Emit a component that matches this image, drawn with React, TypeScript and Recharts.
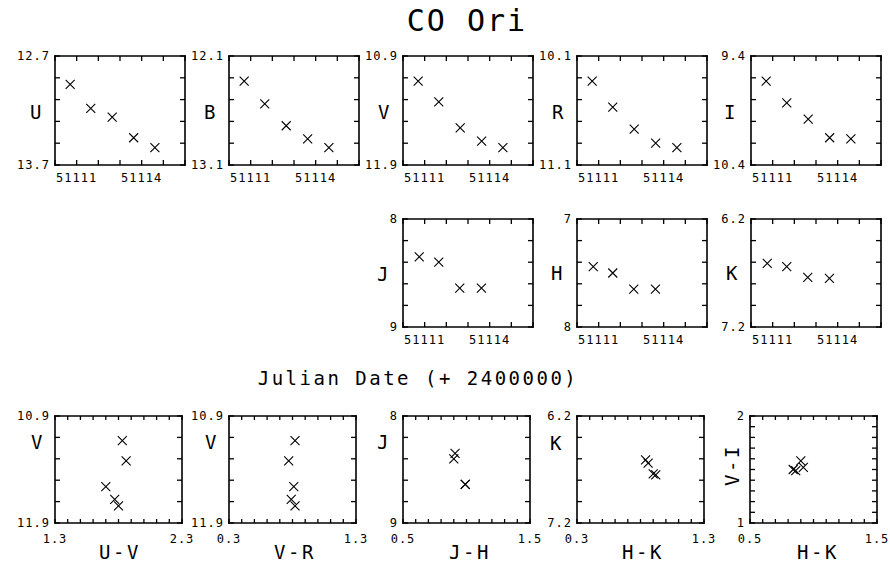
import { ScatterChart, Scatter, XAxis, YAxis } from "recharts";

const FONT = "'DejaVu Sans Mono', monospace";

// dates are JD - 2400000
const optDates = [51110.7, 51111.65, 51112.64, 51113.63, 51114.61];
const irDates = [51110.75, 51111.65, 51112.62, 51113.62];

const magU = [12.96, 13.18, 13.26, 13.45, 13.54];
const magB = [12.33, 12.54, 12.74, 12.86, 12.94];
const magV = [11.13, 11.32, 11.56, 11.68, 11.74];
const magR = [10.33, 10.57, 10.77, 10.9, 10.94];
const magI = [9.63, 9.83, 9.98, 10.15, 10.16];
const magJ = [8.35, 8.4, 8.64, 8.64];
const magH = [7.44, 7.5, 7.65, 7.65];
const magK = [6.61, 6.64, 6.74, 6.75];

const colUV = [1.83, 1.86, 1.7, 1.77, 1.8];
const colVR = [0.82, 0.77, 0.81, 0.79, 0.82];
const colJH = [0.91, 0.9, 0.99, 0.99];
const colHK = [0.84, 0.86, 0.9, 0.92];
const colVI = [1.5, 1.49, 1.58, 1.52];

const dateTicks = [51110, 51111, 51112, 51113, 51114, 51115, 51116];
const dateText = ["", "51111", "", "", "51114", "", ""];

const ticksU = [12.7, 12.9, 13.1, 13.3, 13.5, 13.7];
const ticksB = [12.1, 12.3, 12.5, 12.7, 12.9, 13.1];
const ticksV = [10.9, 11.1, 11.3, 11.5, 11.7, 11.9];
const ticksR = [10.1, 10.3, 10.5, 10.7, 10.9, 11.1];
const ticksI = [9.4, 9.6, 9.8, 10.0, 10.2, 10.4];
const ticksJ = [8, 8.2, 8.4, 8.6, 8.8, 9];
const ticksH = [7, 7.2, 7.4, 7.6, 7.8, 8];
const ticksK = [6.2, 6.4, 6.6, 6.8, 7.0, 7.2];
const ticksVI = [1, 1.1, 1.2, 1.3, 1.4, 1.5, 1.6, 1.7, 1.8, 1.9, 2];

const ticksUV = [1.3, 1.4, 1.5, 1.6, 1.7, 1.8, 1.9, 2.0, 2.1, 2.2, 2.3];
const ticksVR = [0.3, 0.4, 0.5, 0.6, 0.7, 0.8, 0.9, 1.0, 1.1, 1.2, 1.3];
const ticksJH = [0.5, 0.6, 0.7, 0.8, 0.9, 1.0, 1.1, 1.2, 1.3, 1.4, 1.5];
const ticksHK = [0.3, 0.4, 0.5, 0.6, 0.7, 0.8, 0.9, 1.0, 1.1, 1.2, 1.3];
const ticksHK2 = [0.5, 0.6, 0.7, 0.8, 0.9, 1.0, 1.1, 1.2, 1.3, 1.4, 1.5];

const ends = (t: number[], a: string, b: string) =>
  t.map((_, i) => (i === 0 ? a : i === t.length - 1 ? b : ""));

const ML = 50;
const MT = 12;
const MR = 16;
const MB = 28;

const Cross = (props: any) => {
  const { cx, cy } = props;
  const s = 4.5;
  return (
    <path
      d={`M${cx - s},${cy - s}L${cx + s},${cy + s}M${cx - s},${cy + s}L${cx + s},${cy - s}`}
      stroke="#000"
      strokeWidth={1.1}
      fill="none"
    />
  );
};

const Blank = () => <g />;
const noText = () => "";

const axisLine = { stroke: "#000", strokeWidth: 1.6, strokeLinecap: "square" as const };
const tickLine = { stroke: "#000", strokeWidth: 1.3 };
const tickStyle = { fontSize: 12, fontFamily: FONT, fill: "#000", letterSpacing: 1 };

interface PanelProps {
  left: number;
  top: number;
  w: number;
  h: number;
  xs: number[];
  ys: number[];
  xTicks: number[];
  xText: string[];
  yTicks: number[];
  yText: string[];
  flipY?: boolean;
  xGap?: number;
  tickLen?: number;
}

function Panel({ left, top, w, h, xs, ys, xTicks, xText, yTicks, yText, flipY = true, xGap = 13, tickLen = 5 }: PanelProps) {
  const data = xs.map((x, i) => ({ x, y: ys[i] }));
  const xDom = [xTicks[0], xTicks[xTicks.length - 1]];
  const yDom = [yTicks[0], yTicks[yTicks.length - 1]];
  // ticks point inward (negative tickSize); top / right axes get 1px of room so that they are drawn
  return (
    <div style={{ position: "absolute", left: left - ML, top: top - MT }}>
      <ScatterChart
        width={w + ML + MR}
        height={h + MT + MB}
        margin={{ top: MT - 1, right: MR - 1, bottom: 0, left: 0 }}
      >
        <XAxis
          xAxisId="b"
          dataKey="x"
          type="number"
          domain={xDom}
          ticks={xTicks}
          allowDataOverflow
          interval={0}
          height={MB}
          tickSize={-tickLen}
          tickMargin={xGap + 5 - tickLen}
          axisLine={axisLine}
          tickLine={tickLine}
          tick={tickStyle}
          tickFormatter={(_v: number, i: number) => xText[i] ?? ""}
        />
        <XAxis
          xAxisId="t"
          orientation="top"
          dataKey="x"
          type="number"
          domain={xDom}
          ticks={xTicks}
          allowDataOverflow
          interval={0}
          height={1}
          tickSize={-tickLen}
          tick={tickStyle}
          tickFormatter={noText}
          axisLine={axisLine}
          tickLine={tickLine}
        />
        <YAxis
          yAxisId="l"
          dataKey="y"
          type="number"
          domain={yDom}
          reversed={flipY}
          ticks={yTicks}
          allowDataOverflow
          interval={0}
          width={ML}
          tickSize={-5}
          tickMargin={10}
          axisLine={axisLine}
          tickLine={tickLine}
          tick={tickStyle}
          tickFormatter={(_v: number, i: number) => yText[i] ?? ""}
        />
        <YAxis
          yAxisId="r"
          orientation="right"
          dataKey="y"
          type="number"
          domain={yDom}
          reversed={flipY}
          ticks={yTicks}
          allowDataOverflow
          interval={0}
          width={1}
          tickSize={-5}
          tick={tickStyle}
          tickFormatter={noText}
          axisLine={axisLine}
          tickLine={tickLine}
        />
        <Scatter xAxisId="b" yAxisId="l" data={data} shape={Cross} isAnimationActive={false} />
        <Scatter xAxisId="t" yAxisId="r" data={data} shape={Blank} isAnimationActive={false} />
      </ScatterChart>
    </div>
  );
}

function Txt({ x, y, size, children, rotate }: { x: number; y: number; size: number; children: string; rotate?: boolean }) {
  return (
    <div
      style={{
        position: "absolute",
        left: x,
        top: y,
        transform: `translate(-50%, -50%)${rotate ? " rotate(-90deg)" : ""}`,
        fontFamily: FONT,
        fontSize: size,
        lineHeight: 1,
        letterSpacing: size > 25 ? 2 : 2.5,
        whiteSpace: "pre",
        color: "#000",
      }}
    >
      {children}
    </div>
  );
}

export default function App() {
  const topY = 56;
  const midY = 219;
  const botY = 416;
  return (
    <div style={{ position: "absolute", left: 0, top: 0, width: 890, height: 561, background: "#fff", overflow: "hidden" }}>
      <Txt x={467} y={21} size={30}>CO Ori</Txt>

      <Panel left={55} top={topY} w={130} h={109} xs={optDates} ys={magU} xTicks={dateTicks} xText={dateText} yTicks={ticksU} yText={ends(ticksU, "12.7", "13.7")} />
      <Panel left={229} top={topY} w={130} h={109} xs={optDates} ys={magB} xTicks={dateTicks} xText={dateText} yTicks={ticksB} yText={ends(ticksB, "12.1", "13.1")} />
      <Panel left={403} top={topY} w={130} h={109} xs={optDates} ys={magV} xTicks={dateTicks} xText={dateText} yTicks={ticksV} yText={ends(ticksV, "10.9", "11.9")} />
      <Panel left={577} top={topY} w={130} h={109} xs={optDates} ys={magR} xTicks={dateTicks} xText={dateText} yTicks={ticksR} yText={ends(ticksR, "10.1", "11.1")} />
      <Panel left={751} top={topY} w={130} h={109} xs={optDates} ys={magI} xTicks={dateTicks} xText={dateText} yTicks={ticksI} yText={ends(ticksI, "9.4", "10.4")} />
      <Txt x={37} y={112} size={19}>U</Txt>
      <Txt x={211} y={112} size={19}>B</Txt>
      <Txt x={385} y={112} size={19}>V</Txt>
      <Txt x={559} y={112} size={19}>R</Txt>
      <Txt x={731} y={112} size={19}>I</Txt>

      <Panel left={403} top={midY} w={130} h={108} xs={irDates} ys={magJ} xTicks={dateTicks} xText={dateText} yTicks={ticksJ} yText={ends(ticksJ, "8", "9")} />
      <Panel left={577} top={midY} w={130} h={108} xs={irDates} ys={magH} xTicks={dateTicks} xText={dateText} yTicks={ticksH} yText={ends(ticksH, "7", "8")} />
      <Panel left={751} top={midY} w={130} h={108} xs={irDates} ys={magK} xTicks={dateTicks} xText={dateText} yTicks={ticksK} yText={ends(ticksK, "6.2", "7.2")} />
      <Txt x={384} y={274} size={19}>J</Txt>
      <Txt x={558} y={273} size={19}>H</Txt>
      <Txt x={733} y={273} size={19}>K</Txt>

      <Txt x={418} y={378} size={19}>Julian Date (+ 2400000)</Txt>

      <Panel left={55} top={botY} w={127} h={107} xs={colUV} ys={magV} xGap={14} tickLen={4} xTicks={ticksUV} xText={ends(ticksUV, "1.3", "2.3")} yTicks={ticksV} yText={ends(ticksV, "10.9", "11.9")} />
      <Panel left={229} top={botY} w={127} h={107} xs={colVR} ys={magV} xGap={14} tickLen={4} xTicks={ticksVR} xText={ends(ticksVR, "0.3", "1.3")} yTicks={ticksV} yText={ends(ticksV, "10.9", "11.9")} />
      <Panel left={403} top={botY} w={127} h={107} xs={colJH} ys={magJ} xGap={14} tickLen={4} xTicks={ticksJH} xText={ends(ticksJH, "0.5", "1.5")} yTicks={ticksJ} yText={ends(ticksJ, "8", "9")} />
      <Panel left={577} top={botY} w={127} h={107} xs={colHK} ys={magK} xGap={14} tickLen={4} xTicks={ticksHK} xText={ends(ticksHK, "0.3", "1.3")} yTicks={ticksK} yText={ends(ticksK, "6.2", "7.2")} />
      <Panel left={750} top={botY} w={127} h={107} xs={colHK} ys={colVI} xGap={14} tickLen={4} xTicks={ticksHK2} xText={ends(ticksHK2, "0.5", "1.5")} yTicks={ticksVI} yText={ends(ticksVI, "1", "2")} flipY={false} />
      <Txt x={38} y={442} size={19}>V</Txt>
      <Txt x={212} y={442} size={19}>V</Txt>
      <Txt x={384} y={442} size={19}>J</Txt>
      <Txt x={557} y={443} size={19}>K</Txt>
      <Txt x={732} y={465} size={19} rotate>V-I</Txt>
      <Txt x={120} y={552} size={19}>U-V</Txt>
      <Txt x={295} y={552} size={19}>V-R</Txt>
      <Txt x={470} y={552} size={19}>J-H</Txt>
      <Txt x={643} y={552} size={19}>H-K</Txt>
      <Txt x={818} y={552} size={19}>H-K</Txt>
    </div>
  );
}
